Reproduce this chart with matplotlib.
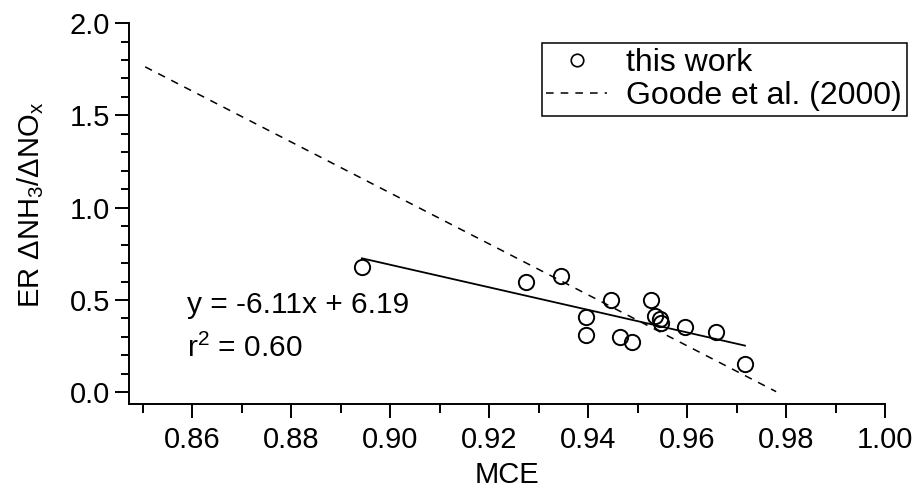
import matplotlib
matplotlib.use("Agg")
import matplotlib.pyplot as plt
from matplotlib.lines import Line2D
from matplotlib.ticker import MultipleLocator, FixedLocator
import numpy as np

# ---- data ----
mce = [0.8943, 0.9274, 0.9345, 0.9396, 0.9396, 0.9446, 0.9465, 0.9488,
       0.9527, 0.9535, 0.9545, 0.9547, 0.9596, 0.9659, 0.9717]
er_nh3_nox = [0.680, 0.596, 0.630, 0.406, 0.310, 0.500, 0.301, 0.274,
              0.500, 0.413, 0.397, 0.375, 0.355, 0.328, 0.152]

fit_slope = -6.11
fit_intercept = 6.19
fit_xrange = [0.8943, 0.9717]

goode_slope = -13.8
goode_intercept = 13.5
goode_xrange = [0.8505, 0.978]

xtick_values = [0.86, 0.88, 0.90, 0.92, 0.94, 0.96, 0.98, 1.00]
xtick_labels = ["0.86", "0.88", "0.90", "0.92", "0.94", "0.96", "0.98", "1.00"]
ytick_values = [0.0, 0.5, 1.0, 1.5, 2.0]
ytick_labels = ["0.0", "0.5", "1.0", "1.5", "2.0"]

legend_labels = ["this work", "Goode et al. (2000)"]
fit_text = ["y = -6.11x + 6.19", r"r$^{2}$ = 0.60"]

# ---- style ----
plt.rcParams["font.family"] = ["Liberation Sans", "DejaVu Sans"]
plt.rcParams["mathtext.fontset"] = "custom"
plt.rcParams["mathtext.rm"] = "Liberation Sans"
plt.rcParams["mathtext.it"] = "Liberation Sans:italic"
plt.rcParams["mathtext.bf"] = "Liberation Sans:bold"
plt.rcParams["mathtext.sf"] = "Liberation Sans"

W, H = 922, 494
fig = plt.figure(figsize=(W / 100, H / 100), dpi=100)
left_px, right_px, top_px, bottom_px = 129.3, 885.0, 23.1, 404.0
ax = fig.add_axes([left_px / W, 1 - bottom_px / H,
                   (right_px - left_px) / W, (bottom_px - top_px) / H])

# Goode et al. line
gx = np.array(goode_xrange)
ax.plot(gx, goode_slope * gx + goode_intercept, color="black", lw=1.1,
        linestyle=(0, (5, 4.6)), zorder=2)

# fit line
fx = np.array(fit_xrange)
ax.plot(fx, fit_slope * fx + fit_intercept, color="black", lw=1.3, zorder=2)

# data points
ax.plot(mce, er_nh3_nox, linestyle="none", marker="o", markersize=11,
        markerfacecolor="none", markeredgecolor="black", markeredgewidth=1.4,
        zorder=3)

ax.set_xlim(0.8473, 1.0)
ax.set_ylim(-0.0634, 2.0)

for s in ["top", "right"]:
    ax.spines[s].set_visible(False)
for s in ["left", "bottom"]:
    ax.spines[s].set_linewidth(1.4)

ax.xaxis.set_major_locator(FixedLocator(xtick_values))
ax.set_xticklabels(xtick_labels)
ax.xaxis.set_minor_locator(FixedLocator(np.arange(0.85, 1.001, 0.01)))
ax.yaxis.set_major_locator(FixedLocator(ytick_values))
ax.set_yticklabels(ytick_labels)
ax.yaxis.set_minor_locator(MultipleLocator(0.1))

ax.tick_params(axis="both", which="major", direction="out", width=1.4,
               length=10, labelsize=21)
ax.tick_params(axis="x", which="major", pad=6)
ax.tick_params(axis="y", which="major", pad=4)
ax.tick_params(axis="x", which="minor", direction="out", width=1.4, length=6.5)
ax.tick_params(axis="y", which="minor", direction="out", width=1.4, length=5.8)

ax.set_xlabel("MCE", fontsize=21, va="center")
ax.xaxis.set_label_coords(0.5, (bottom_px - 475) / (bottom_px - top_px))
ax.set_ylabel(r"ER $\Delta$NH$_3$/$\Delta$NO$_\mathrm{x}$", fontsize=21, va="center")
ax.yaxis.set_label_coords((31 - left_px) / (right_px - left_px),
                          (bottom_px - 205) / (bottom_px - top_px))

ax.text((186.7 - left_px) / (right_px - left_px),
        (bottom_px - 313.3) / (bottom_px - top_px),
        fit_text[0], transform=ax.transAxes, fontsize=21.5, va="baseline", ha="left")
ax.text((186.7 - left_px) / (right_px - left_px),
        (bottom_px - 356.7) / (bottom_px - top_px),
        fit_text[1], transform=ax.transAxes, fontsize=21.5, va="baseline", ha="left")

handles = [
    Line2D([], [], linestyle="none", marker="o", markersize=9,
           markerfacecolor="none", markeredgecolor="black", markeredgewidth=1.2),
    Line2D([], [], color="black", lw=1.1, linestyle=(0, (5, 4.6))),
]
leg = ax.legend(handles, legend_labels, loc="upper right",
                bbox_to_anchor=(906.7 / W, 1 - 43.3 / H),
                bbox_transform=fig.transFigure, borderaxespad=0,
                fontsize=23, frameon=True, fancybox=False, framealpha=1,
                edgecolor="black", borderpad=0.15, handlelength=1.9,
                handletextpad=0.6, labelspacing=0.1)
leg.get_frame().set_linewidth(1.1)

fig.savefig("out.png", dpi=100)
